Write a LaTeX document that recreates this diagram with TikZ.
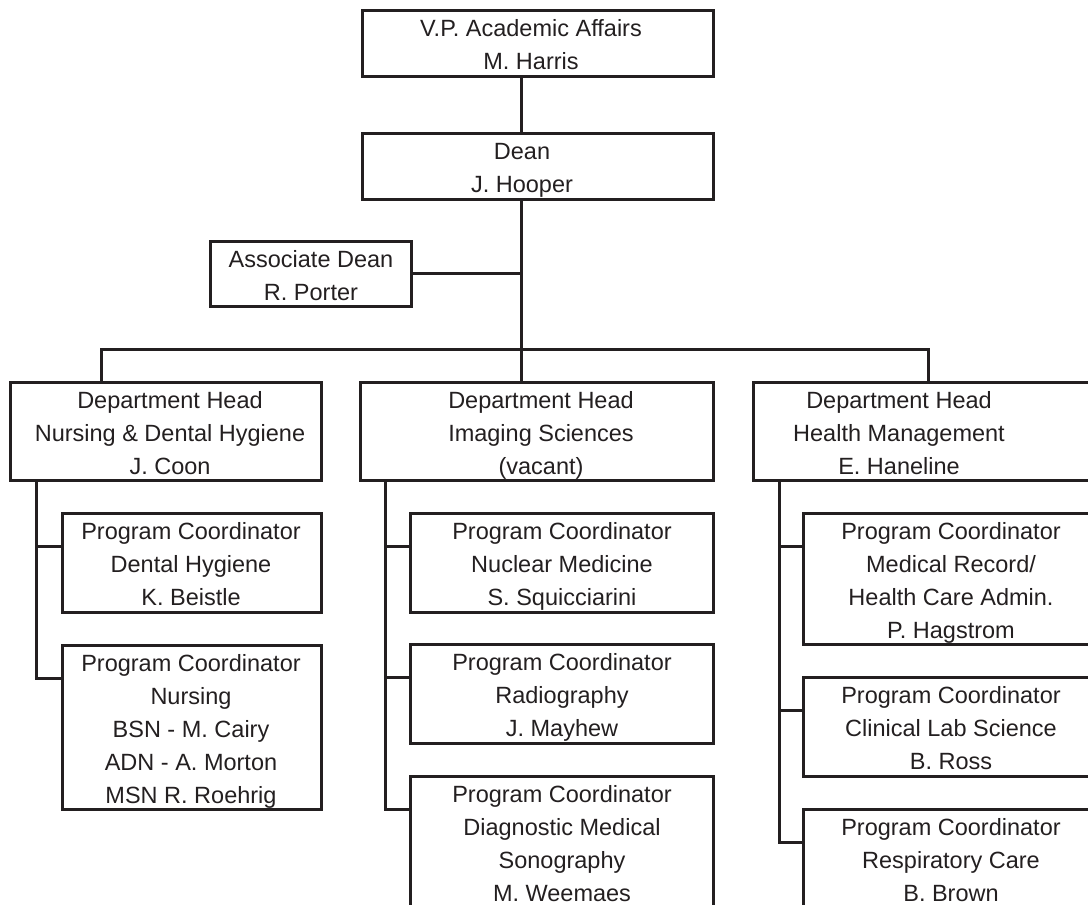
\documentclass[tikz,border=0pt]{standalone}
\usepackage{fontspec}
\setmainfont{Liberation Sans}
\usetikzlibrary{calc}
\definecolor{ink}{RGB}{35,31,32}
\tikzset{
  orgbox/.style={draw=ink, line width=3pt, inner sep=0pt, outer sep=0pt, anchor=north west},
  orgline/.style={draw=ink, line width=3pt},
  orgtxt/.style={inner sep=0pt, anchor=north, text=ink, font=\fontsize{23.5}{33}\selectfont}
}
\newcommand{\orglines}[1]{\parbox[t]{420pt}{\centering\rule{0pt}{26pt}#1}}
\begin{document}
\begin{tikzpicture}[x=1pt, y=-1pt]
\useasboundingbox (0,0) rectangle (1088,905);
\clip (0,0) rectangle (1088,905);

% boxes
\node[orgbox, minimum width=351pt, minimum height=66pt] (vp) at (362,10) {};
\node[orgbox, minimum width=351pt, minimum height=66pt] (dean) at (362,133) {};
\node[orgbox, minimum width=201pt, minimum height=65pt] (assoc) at (210,241) {};
\node[orgbox, minimum width=311pt, minimum height=98pt] (d1) at (10,382) {};
\node[orgbox, minimum width=353pt, minimum height=98pt] (d2) at (360,382) {};
\node[orgbox, minimum width=357pt, minimum height=98pt] (d3) at (753,382) {};
\node[orgbox, minimum width=259pt, minimum height=99pt] (l1) at (62,513) {};
\node[orgbox, minimum width=259pt, minimum height=164pt] (l2) at (62,645) {};
\node[orgbox, minimum width=303pt, minimum height=99pt] (m1) at (410,513) {};
\node[orgbox, minimum width=303pt, minimum height=99pt] (m2) at (410,644) {};
\node[orgbox, minimum width=303pt, minimum height=184pt] (m3) at (410,776) {};
\node[orgbox, minimum width=307pt, minimum height=131pt] (r1) at (803,513) {};
\node[orgbox, minimum width=307pt, minimum height=99pt] (r2) at (803,677) {};
\node[orgbox, minimum width=307pt, minimum height=151pt] (r3) at (803,809) {};

% texts
\node[orgtxt] (tvp) at (531,10) {\orglines{V.P. Academic Affairs\\M. Harris}};
\node[orgtxt] (tdean) at (522,133) {\orglines{Dean\\J. Hooper}};
\node[orgtxt] (tassoc) at (311,241) {\orglines{Associate Dean\\R. Porter}};
\node[orgtxt] (td1) at (170,382) {\orglines{Department Head\\Nursing \& Dental Hygiene\\J. Coon}};
\node[orgtxt] (td2) at (541,382) {\orglines{Department Head\\Imaging Sciences\\(vacant)}};
\node[orgtxt] (td3) at (899,382) {\orglines{Department Head\\Health Management\\E. Haneline}};
\node[orgtxt] (tl1) at (191,513) {\orglines{Program Coordinator\\Dental Hygiene\\K. Beistle}};
\node[orgtxt] (tl2) at (191,645) {\orglines{Program Coordinator\\Nursing\\BSN - M. Cairy\\ADN - A. Morton\\MSN R. Roehrig}};
\node[orgtxt] (tm1) at (562,513) {\orglines{Program Coordinator\\Nuclear Medicine\\S. Squicciarini}};
\node[orgtxt] (tm2) at (562,644) {\orglines{Program Coordinator\\Radiography\\J. Mayhew}};
\node[orgtxt] (tm3) at (562,776) {\orglines{Program Coordinator\\Diagnostic Medical\\Sonography\\M. Weemaes}};
\node[orgtxt] (tr1) at (951,513) {\orglines{Program Coordinator\\Medical Record/\\Health Care Admin.\\P. Hagstrom}};
\node[orgtxt] (tr2) at (951,677) {\orglines{Program Coordinator\\Clinical Lab Science\\B. Ross}};
\node[orgtxt] (tr3) at (951,809) {\orglines{Program Coordinator\\Respiratory Care\\B. Brown}};

% helper coordinates
\coordinate (sp) at (521,0);
\coordinate (barL) at (101,349);
\coordinate (barR) at (928,349);
\coordinate (ls) at (36,0);
\coordinate (ms) at (385,0);
\coordinate (rs) at (779,0);
\foreach \b in {l1,l2,m1,m2,m3,r1,r2,r3}{
  \coordinate (\b c) at ($(\b.north west)+(0,33)$);
}

% connectors
\draw[orgline] (vp.south -| sp) -- (dean.north -| sp);
\draw[orgline] (dean.south -| sp) -- (d2.north -| sp);
\draw[orgline] (assoc.east) -- (assoc.east -| sp);
\draw[orgline] (d1.north -| barL) -- (barL) -- (barR) -- (d3.north -| barR);

\draw[orgline] (d1.south -| ls) -- (ls |- l2c) -- (l2c);
\draw[orgline] (ls |- l1c) -- (l1c);

\draw[orgline] (d2.south -| ms) -- (ms |- m3c) -- (m3c);
\draw[orgline] (ms |- m1c) -- (m1c);
\draw[orgline] (ms |- m2c) -- (m2c);

\draw[orgline] (d3.south -| rs) -- (rs |- r3c) -- (r3c);
\draw[orgline] (rs |- r1c) -- (r1c);
\draw[orgline] (rs |- r2c) -- (r2c);
\end{tikzpicture}
\end{document}
